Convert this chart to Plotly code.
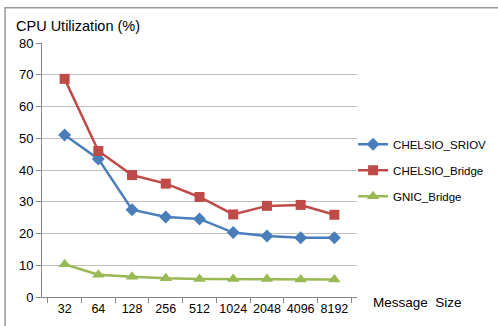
import plotly.graph_objects as go

categories = ["32", "64", "128", "256", "512", "1024", "2048", "4096", "8192"]
chelsio_sriov = [51.0, 43.5, 27.5, 25.2, 24.6, 20.3, 19.2, 18.7, 18.7]
chelsio_bridge = [68.7, 46.0, 38.4, 35.7, 31.5, 26.0, 28.7, 29.0, 25.9]
gnic_bridge = [10.3, 7.0, 6.4, 5.9, 5.7, 5.7, 5.7, 5.5, 5.5]
y_ticks = [0, 10, 20, 30, 40, 50, 60, 70, 80]

series = [
    ("CHELSIO_SRIOV", chelsio_sriov, "#4A7EBB", "diamond", 10),
    ("CHELSIO_Bridge", chelsio_bridge, "#BE4B48", "square", 10),
    ("GNIC_Bridge", gnic_bridge, "#98B954", "triangle-up", 11),
]

fig = go.Figure()
for i, (name, vals, color, sym, size) in enumerate(series):
    fig.add_trace(go.Scatter(
        x=categories, y=vals, name=name, mode="lines+markers",
        line=dict(color=color, width=2.5),
        marker=dict(symbol=sym, size=size, color=color),
        legendgroup=f"g{i}",
    ))

font = "Liberation Sans, Arial, sans-serif"
fig.update_layout(
    width=498, height=326,
    margin=dict(l=42, r=141, t=43, b=29, autoexpand=False),
    paper_bgcolor="white", plot_bgcolor="white",
    font=dict(family=font, size=12, color="#000000"),
    showlegend=True,
    legend=dict(xref="container", x=0.709, xanchor="left", yref="container", y=0.602,
                yanchor="top", font=dict(size=11.5, family=font), tracegroupgap=7,
                bgcolor="rgba(0,0,0,0)"),
    xaxis=dict(type="category", showgrid=False, showline=True, linecolor="#868686",
               linewidth=1, ticks="outside", tickson="boundaries", ticklen=5,
               tickcolor="#868686", tickfont=dict(size=12.5), tickangle=0, automargin=False),
    yaxis=dict(range=[0, 80], tickvals=y_ticks, showgrid=True, gridcolor="#BFBFBF",
               gridwidth=1, showline=True, linecolor="#868686", ticks="outside",
               ticklen=5, tickcolor="#868686", zeroline=False, tickfont=dict(size=13),
               automargin=False),
    annotations=[
        dict(text="CPU Utilization (%)", xref="paper", yref="paper", x=-0.09, y=1.066,
             xanchor="left", yanchor="middle", showarrow=False, font=dict(size=14.5)),
        dict(text="Message  Size", xref="paper", yref="paper", x=1.045, y=-0.02,
             xanchor="left", yanchor="middle", showarrow=False, font=dict(size=13.5)),
    ],
    shapes=[
        dict(type="rect", xref="paper", yref="paper", x0=-0.117, x1=1.6, y0=-0.2, y1=1.139,
             line=dict(color="#999999", width=1.5), fillcolor="rgba(0,0,0,0)", layer="above"),
    ],
)

fig.write_html("out.html", config={"displayModeBar": False},
               post_script="document.body.style.margin='0';")
